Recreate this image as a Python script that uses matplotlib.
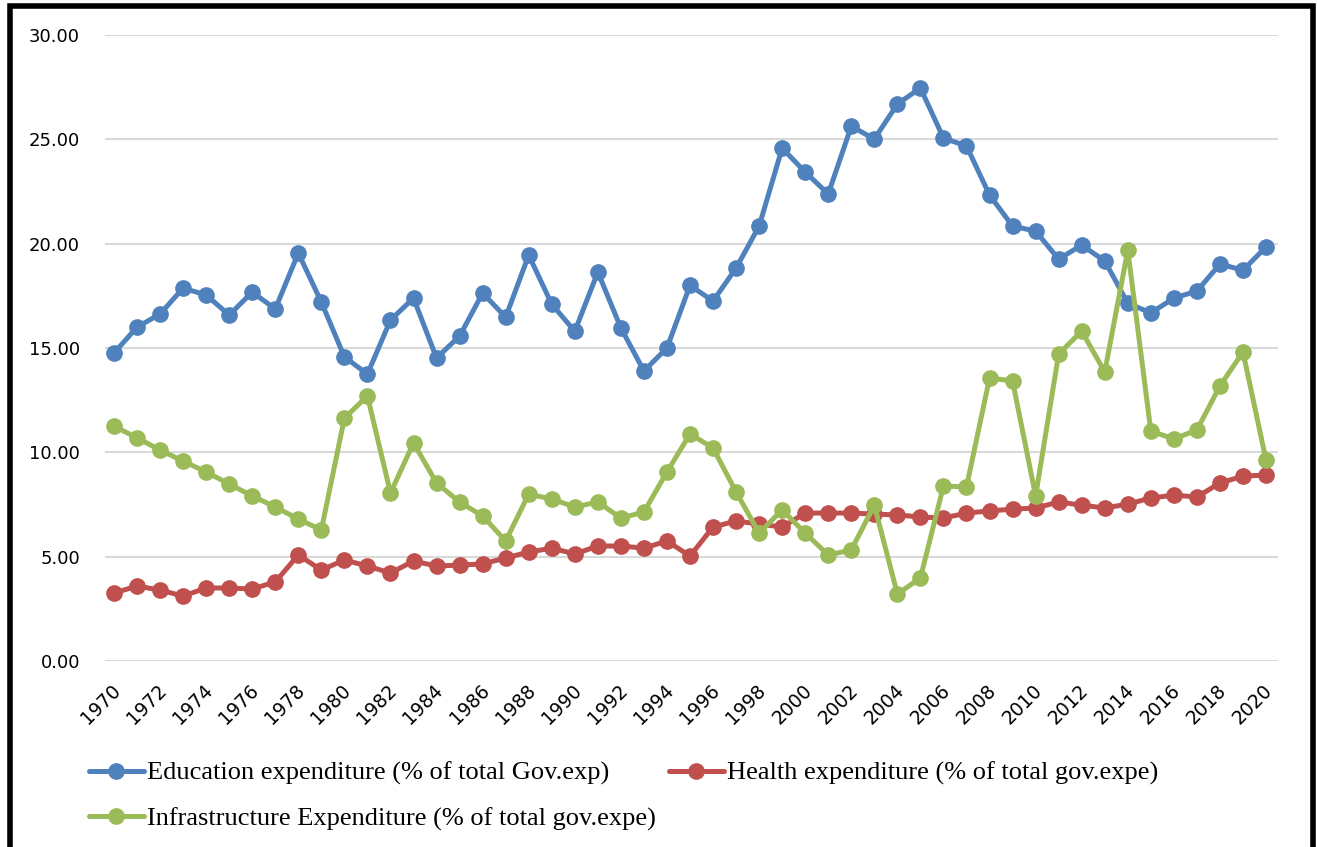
import numpy as np
import matplotlib
matplotlib.use("Agg")
import matplotlib.pyplot as plt
import matplotlib.transforms as mtransforms
from matplotlib.patches import Rectangle

years = np.arange(1970, 2021)

education = [14.76, 16.00, 16.63, 17.87, 17.54, 16.58, 17.68, 16.87, 19.55, 17.20,
             14.57, 13.75, 16.34, 17.39, 14.52, 15.57, 17.63, 16.48, 19.45, 17.10,
             15.80, 18.64, 15.96, 13.90, 15.00, 18.00, 17.25, 18.83, 20.84, 24.58,
             23.43, 22.38, 25.63, 25.01, 26.69, 27.46, 25.06, 24.68, 22.33, 20.84,
             20.60, 19.26, 19.93, 19.17, 17.15, 16.68, 17.39, 17.73, 19.02, 18.73,
             19.84]

health = [3.26, 3.59, 3.40, 3.11, 3.50, 3.50, 3.45, 3.79, 5.08, 4.36,
          4.84, 4.55, 4.22, 4.79, 4.55, 4.60, 4.65, 4.94, 5.22, 5.41,
          5.13, 5.51, 5.51, 5.41, 5.75, 5.03, 6.42, 6.71, 6.56, 6.42,
          7.09, 7.09, 7.09, 7.04, 7.00, 6.90, 6.85, 7.09, 7.19, 7.28,
          7.33, 7.62, 7.47, 7.33, 7.52, 7.81, 7.95, 7.86, 8.53, 8.86,
          8.91]

infrastructure = [11.26, 10.69, 10.11, 9.58, 9.06, 8.48, 7.91, 7.38, 6.80, 6.28,
                  11.64, 12.70, 8.05, 10.45, 8.53, 7.62, 6.95, 5.75, 8.00, 7.76,
                  7.38, 7.62, 6.85, 7.14, 9.06, 10.88, 10.21, 8.10, 6.13, 7.24,
                  6.13, 5.08, 5.32, 7.47, 3.21, 3.98, 8.39, 8.34, 13.56, 13.42,
                  7.91, 14.71, 15.81, 13.85, 19.69, 11.02, 10.64, 11.07, 13.18, 14.81,
                  9.63]

labels = ["Education expenditure (% of total Gov.exp)",
          "Health expenditure (% of total gov.expe)",
          "Infrastructure Expenditure (% of total gov.expe)"]
colors = ["#4F81BD", "#C0504D", "#9BBB59"]

fig = plt.figure(figsize=(13.17, 8.47), dpi=100)
ax = fig.add_axes([105 / 1317, 1 - 661 / 847, (1278 - 105) / 1317, (661 - 35) / 847])

lines = []
for vals, lab, c in zip([education, health, infrastructure], labels, colors):
    ln, = ax.plot(years, vals, color=c, linewidth=3.6, marker="o", markersize=11,
                  label=lab, solid_capstyle="round", solid_joinstyle="round")
    lines.append(ln)

ax.set_ylim(0, 30)
ax.set_yticks(np.arange(0, 31, 5))
ax.set_yticklabels([f"{v:.2f}" for v in np.arange(0, 31, 5)])
ax.set_xlim(1969.61, 2020.52)
ax.set_xticks(years[::2])
ax.set_xticklabels([str(y) for y in years[::2]], rotation=45, ha="right",
                   rotation_mode="anchor")
ax.tick_params(axis="both", length=0, colors="black")
ax.tick_params(axis="y", pad=18, labelsize=13)
ax.tick_params(axis="x", pad=8, labelsize=13.5)
off = mtransforms.ScaledTranslation(-3 / 100, -9 / 100, fig.dpi_scale_trans)
for t in ax.get_xticklabels():
    t.set_transform(t.get_transform() + off)
ax.grid(axis="y", color="#D9D9D9", linewidth=1.5)
ax.set_axisbelow(True)
for s in ax.spines.values():
    s.set_visible(False)

# row-wise order: Education, Health / Infrastructure
handles = [lines[0], lines[2], lines[1]]
leg = fig.legend(handles, [h.get_label() for h in handles],
                 loc="upper left", bbox_to_anchor=(78 / 1317, 1 - 751 / 847), ncol=2,
                 frameon=False, prop={"family": "Liberation Serif", "size": 19},
                 handlelength=2.1, handletextpad=0.1, columnspacing=0.5,
                 labelspacing=0.82, borderaxespad=0)

# outer frame
fig.patches.append(Rectangle((9.5 / 1317, -0.05), (1313 - 9.5) / 1317, 1.05 - 6.5 / 847,
                             transform=fig.transFigure, fill=False,
                             edgecolor="black", linewidth=4))

fig.savefig("out.png", dpi=100)
